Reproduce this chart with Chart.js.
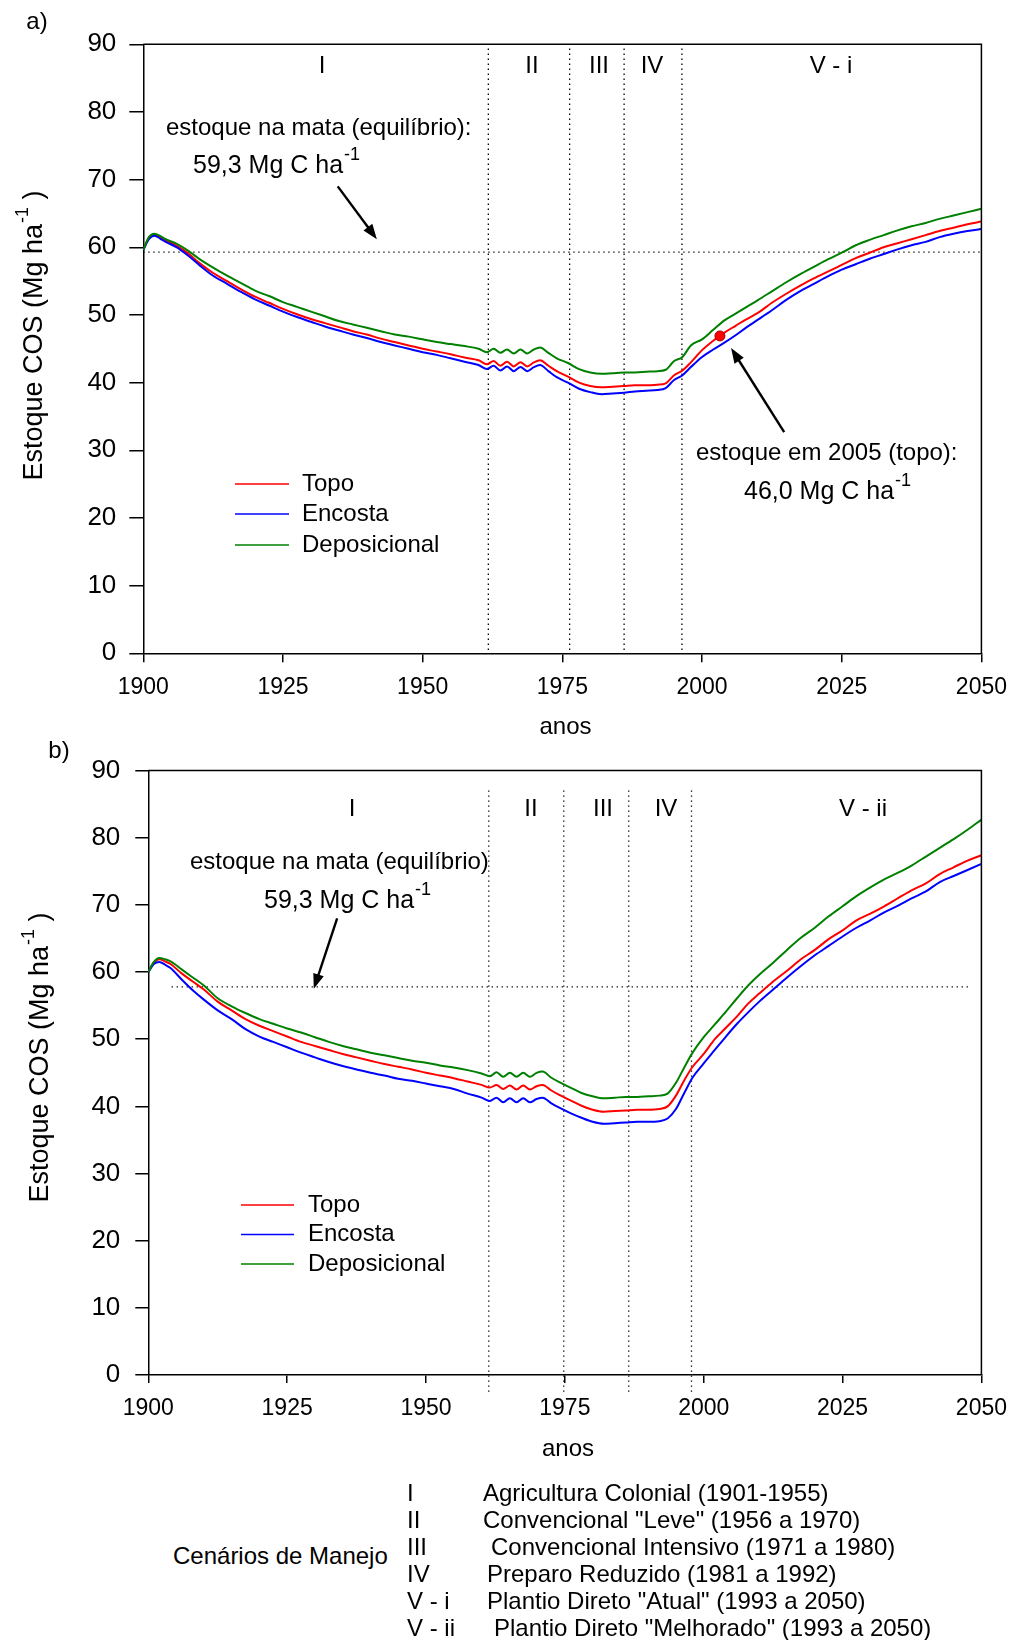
<!DOCTYPE html>
<html lang="pt">
<head>
<meta charset="UTF-8">
<title>Estoque COS</title>
<script src="https://cdn.jsdelivr.net/npm/chart.js"></script>
<style>
    body { margin: 0; background: #fff; font-family: "Liberation Sans", Arial, sans-serif; color: #000; }
    #wrap { position: relative; width: 1019px; height: 1640px; overflow: hidden; }
    #chartA { position: absolute; left: 0; top: 0; }
    #chartB { position: absolute; left: 0; top: 740px; }
    .cen { position: absolute; left: 173px; top: 1542px; font-size: 24px; line-height: 27px; white-space: nowrap; }
    .rows { position: absolute; left: 0; top: 1479px; width: 1019px; }
    .row { position: relative; height: 27px; font-size: 24px; line-height: 27px; white-space: nowrap; }
    .row span { position: absolute; top: 0; }
    .code { left: 407px; }
</style>
</head>
<body>
<div id="wrap">
    <canvas id="chartA" width="1019" height="740"></canvas>
    <canvas id="chartB" width="1019" height="740"></canvas>

    <div class="cen">Cenários de Manejo</div>
    <div class="rows">
        <div class="row"><span class="code">I</span><span style="left:483px">Agricultura Colonial (1901-1955)</span></div>
        <div class="row"><span class="code">II</span><span style="left:483px">Convencional "Leve" (1956 a 1970)</span></div>
        <div class="row"><span class="code">III</span><span style="left:491px">Convencional Intensivo (1971 a 1980)</span></div>
        <div class="row"><span class="code">IV</span><span style="left:487px">Preparo Reduzido (1981 a 1992)</span></div>
        <div class="row"><span class="code">V - i</span><span style="left:487px">Plantio Direto "Atual" (1993 a 2050)</span></div>
        <div class="row"><span class="code">V - ii</span><span style="left:494px">Plantio Direto "Melhorado" (1993 a 2050)</span></div>
    </div>
</div>
<script>
    // anos (eixo x) comuns aos dois graficos
    const anos = [1900, 1901, 1902, 1903, 1904, 1906, 1908, 1910, 1912.5, 1915,
        1917.5, 1920, 1922.5, 1925, 1927.5, 1930, 1932.5, 1935, 1937.5, 1940,
        1942.5, 1945, 1947.5, 1950, 1952.5, 1955, 1957.5, 1960, 1961.5, 1962.7,
        1963.9, 1965.1, 1966.3, 1967.5, 1968.7, 1969.9, 1971, 1972.5, 1974, 1976,
        1978, 1980, 1982, 1984, 1986, 1988, 1990, 1992, 1993.5, 1995,
        1996.5, 1998, 2000, 2002, 2004, 2006, 2008, 2010, 2012.5, 2015,
        2017.5, 2020, 2022.5, 2025, 2027.5, 2030, 2032.5, 2035, 2037.5, 2040,
        2042.5, 2045, 2047.5, 2050];

    // a) cenario V - i
    const topoA = [59.6, 61.4, 61.9, 61.5, 61.0, 60.2, 59.1, 57.7, 56.2, 55.0,
        53.8, 52.7, 51.8, 50.9, 50.1, 49.4, 48.8, 48.2, 47.6, 47.1,
        46.5, 46.0, 45.5, 45.0, 44.6, 44.2, 43.7, 43.3, 42.7, 43.2,
        42.5, 43.1, 42.4, 43.0, 42.4, 43.0, 43.3, 42.5, 41.7, 40.9,
        40.0, 39.5, 39.3, 39.4, 39.5, 39.6, 39.6, 39.7, 39.9, 41.1,
        41.8, 43.0, 44.8, 46.2, 47.4, 48.4, 49.4, 50.3, 51.8, 53.1,
        54.3, 55.4, 56.4, 57.4, 58.4, 59.2, 60.0, 60.6, 61.2, 61.8,
        62.4, 62.9, 63.4, 63.8];
    const encostaA = [59.6, 61.2, 61.7, 61.3, 60.8, 60.0, 58.8, 57.4, 55.8, 54.6,
        53.4, 52.3, 51.4, 50.5, 49.7, 49.0, 48.3, 47.7, 47.1, 46.6,
        46.0, 45.5, 45.0, 44.5, 44.1, 43.6, 43.1, 42.6, 42.0, 42.5,
        41.8, 42.4, 41.7, 42.3, 41.7, 42.3, 42.6, 41.7, 40.8, 40.0,
        39.1, 38.6, 38.3, 38.4, 38.5, 38.7, 38.8, 38.9, 39.2, 40.4,
        41.1, 42.3, 43.8, 44.9, 45.9, 47.0, 48.2, 49.3, 50.7, 52.2,
        53.5, 54.6, 55.7, 56.7, 57.5, 58.3, 59.0, 59.7, 60.3, 60.8,
        61.5, 62.0, 62.4, 62.7];
    const deposA = [59.6, 61.5, 62.0, 61.7, 61.2, 60.5, 59.5, 58.3, 57.0, 55.8,
        54.7, 53.6, 52.8, 51.9, 51.2, 50.5, 49.8, 49.1, 48.6, 48.1,
        47.6, 47.1, 46.8, 46.4, 46.0, 45.7, 45.4, 45.0, 44.5, 45.0,
        44.4, 44.9, 44.3, 44.9, 44.3, 44.9, 45.2, 44.4, 43.6, 42.9,
        42.0, 41.5, 41.3, 41.4, 41.5, 41.5, 41.6, 41.7, 41.9, 43.2,
        43.8, 45.5, 46.4, 47.8, 49.2, 50.2, 51.2, 52.2, 53.5, 54.8,
        56.0, 57.1, 58.2, 59.2, 60.3, 61.1, 61.8, 62.5, 63.1, 63.6,
        64.2, 64.7, 65.2, 65.7];

    // b) cenario V - ii
    const topoB = [60.0, 61.4, 61.9, 61.6, 61.2, 59.8, 58.6, 57.4, 55.6, 54.3,
        53.0, 52.0, 51.2, 50.4, 49.6, 49.0, 48.4, 47.8, 47.3, 46.8,
        46.3, 45.9, 45.5, 45.0, 44.6, 44.2, 43.7, 43.2, 42.8, 43.2,
        42.6, 43.1, 42.5, 43.1, 42.5, 43.0, 43.2, 42.4, 41.7, 40.9,
        40.1, 39.5, 39.2, 39.3, 39.4, 39.5, 39.5, 39.6, 40.0, 41.6,
        43.9, 45.9, 47.8, 50.0, 51.7, 53.4, 55.3, 56.8, 58.6, 60.2,
        61.9, 63.3, 64.9, 66.2, 67.7, 68.7, 69.8, 71.0, 72.2, 73.2,
        74.6, 75.6, 76.6, 77.4];
    const encostaB = [60.0, 61.2, 61.5, 61.1, 60.6, 58.9, 57.3, 55.9, 54.3, 53.0,
        51.5, 50.4, 49.6, 48.8, 48.0, 47.3, 46.6, 46.0, 45.5, 45.0,
        44.6, 44.1, 43.8, 43.4, 43.0, 42.6, 41.9, 41.3, 40.8, 41.3,
        40.6, 41.2, 40.6, 41.2, 40.6, 41.1, 41.3, 40.5, 39.8, 39.0,
        38.3, 37.7, 37.4, 37.5, 37.6, 37.7, 37.7, 37.8, 38.2, 39.6,
        42.0, 44.3, 46.4, 48.4, 50.4, 52.3, 54.0, 55.6, 57.4, 59.2,
        60.9, 62.5, 63.9, 65.3, 66.6, 67.7, 68.9, 69.9, 71.0, 72.0,
        73.4, 74.3, 75.2, 76.1];
    const deposB = [60.0, 61.5, 62.1, 61.9, 61.6, 60.4, 59.2, 58.0, 56.1, 54.9,
        53.9, 53.0, 52.3, 51.6, 51.0, 50.3, 49.6, 49.0, 48.5, 48.0,
        47.6, 47.2, 46.8, 46.5, 46.1, 45.8, 45.4, 44.9, 44.5, 45.1,
        44.4, 45.0, 44.4, 45.0, 44.4, 45.0, 45.2, 44.3, 43.6, 42.8,
        42.0, 41.5, 41.2, 41.3, 41.4, 41.4, 41.5, 41.6, 41.9, 43.5,
        45.8, 48.0, 50.3, 52.2, 54.1, 56.1, 58.0, 59.6, 61.4, 63.3,
        65.1, 66.6, 68.3, 69.8, 71.3, 72.6, 73.8, 74.8, 75.9, 77.2,
        78.5, 79.8, 81.2, 82.7];

    const seriesNames = ['Topo', 'Encosta', 'Deposicional'];
    const xTicks = [1900, 1925, 1950, 1975, 2000, 2025, 2050];
    const yTicks = [0, 10, 20, 30, 40, 50, 60, 70, 80, 90];

    // limites dos cenarios (linhas pontilhadas verticais)
    const limitesA = [1961.75, 1976.3, 1986.05, 1996.4];
    const limitesB = [1961.3, 1974.8, 1986.5, 1997.8];
    const cenariosA = ['I', 'II', 'III', 'IV', 'V - i'];
    const cenariosB = ['I', 'II', 'III', 'IV', 'V - ii'];

    // estoque na mata (linha pontilhada horizontal) e ponto de 2005
    const mataA = { y: 59.3, x0: 1900, x1: 2050 };
    const mataB = { y: 57.8, x0: 1904.2, x1: 2048.2 };
    const estoque2005 = [{ x: 2003.2, y: 46.9 }];
    const setaMataA = [[1934.8, 69.0], [1941.8, 61.2]];
    const seta2005 = [[2014.7, 32.7], [2005.2, 45.1]];
    const setaMataB = [[1934.0, 68.0], [1929.8, 57.5]];

    const FONT = '"Liberation Sans", Arial, sans-serif';
    const colors = ['#ff0000', '#0000ff', '#008000'];
    Chart.defaults.font.family = FONT;
    Chart.defaults.color = '#000';

    const pts = (vals) => anos.map((x, i) => ({ x: x, y: vals[i] }));

    function dotted(data, clip) {
        return {
            data: data, borderColor: '#000', borderWidth: 1.3, borderDash: [1.3, 3.7],
            pointRadius: 0, order: 10, clip: clip
        };
    }

    function buildDatasets(series, limites, mata, yLo, yHi, clip) {
        const ds = series.map((vals, i) => ({
            label: seriesNames[i], data: pts(vals), borderColor: colors[i],
            borderWidth: 2, pointRadius: 0, cubicInterpolationMode: 'monotone', order: 3 - i
        }));
        ds.push(dotted([{ x: mata.x0, y: mata.y }, { x: mata.x1, y: mata.y }], 0));
        limites.forEach(l => ds.push(dotted([{ x: l, y: yLo }, { x: l, y: yHi }], clip)));
        return ds;
    }

    function scales(yWidth, xHeight, yTickLen, xTickLen, yPad) {
        return {
            x: {
                type: 'linear', min: 1900, max: 2050,
                afterBuildTicks: s => { s.ticks = xTicks.map(v => ({ value: v })); },
                afterFit: s => { s.height = xHeight; },
                ticks: { font: { size: 23 }, color: '#000', padding: 12, callback: v => String(v), maxRotation: 0 },
                grid: { drawOnChartArea: false, tickLength: xTickLen, color: '#000', lineWidth: 1.5 },
                border: { color: '#000', width: 1.5 }
            },
            y: {
                min: 0, max: 90,
                afterBuildTicks: s => { s.ticks = yTicks.map(v => ({ value: v })); },
                afterFit: s => { s.width = yWidth; },
                ticks: { font: { size: 26 }, color: '#000', padding: yPad, callback: v => String(v) },
                grid: { drawOnChartArea: false, tickLength: yTickLen, color: '#000', lineWidth: 1.5 },
                border: { color: '#000', width: 1.5 }
            }
        };
    }

    function text(ctx, s, x, y, size, align) {
        ctx.font = size + 'px ' + FONT;
        ctx.textAlign = align || 'center';
        ctx.textBaseline = 'middle';
        ctx.fillText(s, x, y);
    }

    function supText(ctx, base, sup, x, y, size) {
        text(ctx, base, x, y, size, 'left');
        const w = ctx.measureText(base).width;
        text(ctx, sup, x + w + 1, y - size * 0.45, Math.round(size * 0.7), 'left');
    }

    function yTitle(ctx, cx, cy) {
        const size = 27, small = 18;
        ctx.save();
        ctx.translate(cx, cy);
        ctx.rotate(-Math.PI / 2);
        ctx.font = size + 'px ' + FONT;
        const p1 = 'Estoque COS (Mg ha', p3 = ' )';
        const w1 = ctx.measureText(p1).width, w3 = ctx.measureText(p3).width;
        ctx.font = small + 'px ' + FONT;
        const w2 = ctx.measureText('-1').width;
        const sx = -(w1 + w2 + w3) / 2;
        text(ctx, p1, sx, 0, size, 'left');
        text(ctx, '-1', sx + w1 + 1, -12, small, 'left');
        text(ctx, p3, sx + w1 + w2 + 1, 0, size, 'left');
        ctx.restore();
    }

    function arrow(chart, seta) {
        const ctx = chart.ctx, sx = chart.scales.x, sy = chart.scales.y;
        const x0 = sx.getPixelForValue(seta[0][0]), y0 = sy.getPixelForValue(seta[0][1]);
        const x1 = sx.getPixelForValue(seta[1][0]), y1 = sy.getPixelForValue(seta[1][1]);
        const ang = Math.atan2(y1 - y0, x1 - x0), head = 15, half = 5.5;
        ctx.strokeStyle = '#000';
        ctx.fillStyle = '#000';
        ctx.lineWidth = 2.4;
        ctx.beginPath();
        ctx.moveTo(x0, y0);
        ctx.lineTo(x1 - Math.cos(ang) * head * 0.7, y1 - Math.sin(ang) * head * 0.7);
        ctx.stroke();
        ctx.beginPath();
        ctx.moveTo(x1, y1);
        ctx.lineTo(x1 - head * Math.cos(ang) + half * Math.sin(ang), y1 - head * Math.sin(ang) - half * Math.cos(ang));
        ctx.lineTo(x1 - head * Math.cos(ang) - half * Math.sin(ang), y1 - head * Math.sin(ang) + half * Math.cos(ang));
        ctx.closePath();
        ctx.fill();
    }

    function legend(ctx, x0, x1, tx, ys) {
        seriesNames.forEach((n, i) => {
            ctx.strokeStyle = colors[i];
            ctx.lineWidth = 1.6;
            ctx.beginPath();
            ctx.moveTo(x0, ys[i]);
            ctx.lineTo(x1, ys[i]);
            ctx.stroke();
            ctx.fillStyle = '#000';
            text(ctx, n, tx, ys[i], 24, 'left');
        });
    }

    function frame(chart) {
        const ctx = chart.ctx, a = chart.chartArea;
        ctx.strokeStyle = '#000';
        ctx.lineWidth = 1.5;
        ctx.beginPath();
        ctx.moveTo(a.left, a.top);
        ctx.lineTo(a.right, a.top);
        ctx.lineTo(a.right, a.bottom);
        ctx.stroke();
    }

    // Grafico a)
    const decoA = {
        id: 'decoA',
        afterDraw(chart) {
            const ctx = chart.ctx;
            ctx.save();
            frame(chart);
            ctx.fillStyle = '#000';
            [322, 532, 599, 652, 831].forEach((x, i) => text(ctx, cenariosA[i], x, 66, 24));
            text(ctx, 'estoque na mata (equilíbrio):', 166, 128, 24, 'left');
            supText(ctx, '59,3 Mg C ha', '-1', 193, 166, 25);
            text(ctx, 'estoque em 2005 (topo):', 696, 453, 24, 'left');
            supText(ctx, '46,0 Mg C ha', '-1', 744, 492, 25);
            arrow(chart, setaMataA);
            arrow(chart, seta2005);
            legend(ctx, 235, 289, 302, [484, 514, 545]);
            ctx.fillStyle = '#000';
            text(ctx, 'anos', 565.5, 727, 24);
            text(ctx, 'a)', 37, 22, 24);
            yTitle(ctx, 35, 336);
            ctx.restore();
        }
    };

    const dsA = buildDatasets([topoA, encostaA, deposA], limitesA, mataA, 0.5, 90, 0);
    dsA.push({
        type: 'scatter', data: estoque2005, pointRadius: 5, pointBackgroundColor: '#ff0000',
        pointBorderColor: '#a00000', pointBorderWidth: 1, order: -1
    });

    new Chart(document.getElementById('chartA'), {
        type: 'line',
        data: { datasets: dsA },
        options: {
            responsive: false, animation: false, devicePixelRatio: 1, events: [],
            layout: { padding: { top: 44.3, right: 31.3, left: 0, bottom: 0 } },
            plugins: { legend: { display: false }, tooltip: { enabled: false } },
            scales: scales(143.3, 86.7, 14, 9, 13)
        },
        plugins: [decoA]
    });

    // Grafico b) (canvas deslocado 740 px)
    const decoB = {
        id: 'decoB',
        afterDraw(chart) {
            const ctx = chart.ctx;
            ctx.save();
            frame(chart);
            ctx.fillStyle = '#000';
            [352, 531, 603, 666, 863].forEach((x, i) => text(ctx, cenariosB[i], x, 69, 24));
            text(ctx, 'estoque na mata (equilíbrio)', 190, 122, 24, 'left');
            supText(ctx, '59,3 Mg C ha', '-1', 264, 161, 25);
            arrow(chart, setaMataB);
            legend(ctx, 241, 294, 308, [465, 494.5, 524]);
            ctx.fillStyle = '#000';
            text(ctx, 'anos', 568, 709, 24);
            text(ctx, 'b)', 59, 11, 24);
            yTitle(ctx, 41, 318);
            ctx.restore();
        }
    };

    new Chart(document.getElementById('chartB'), {
        type: 'line',
        data: { datasets: buildDatasets([topoB, encostaB, deposB], limitesB, mataB, -2.5, 87.2, false) },
        options: {
            responsive: false, animation: false, devicePixelRatio: 1, events: [],
            layout: { padding: { top: 30, right: 31, left: 0, bottom: 0 } },
            plugins: { legend: { display: false }, tooltip: { enabled: false } },
            scales: scales(148.3, 105, 13, 8, 15)
        },
        plugins: [decoB]
    });
</script>
</body>
</html>
